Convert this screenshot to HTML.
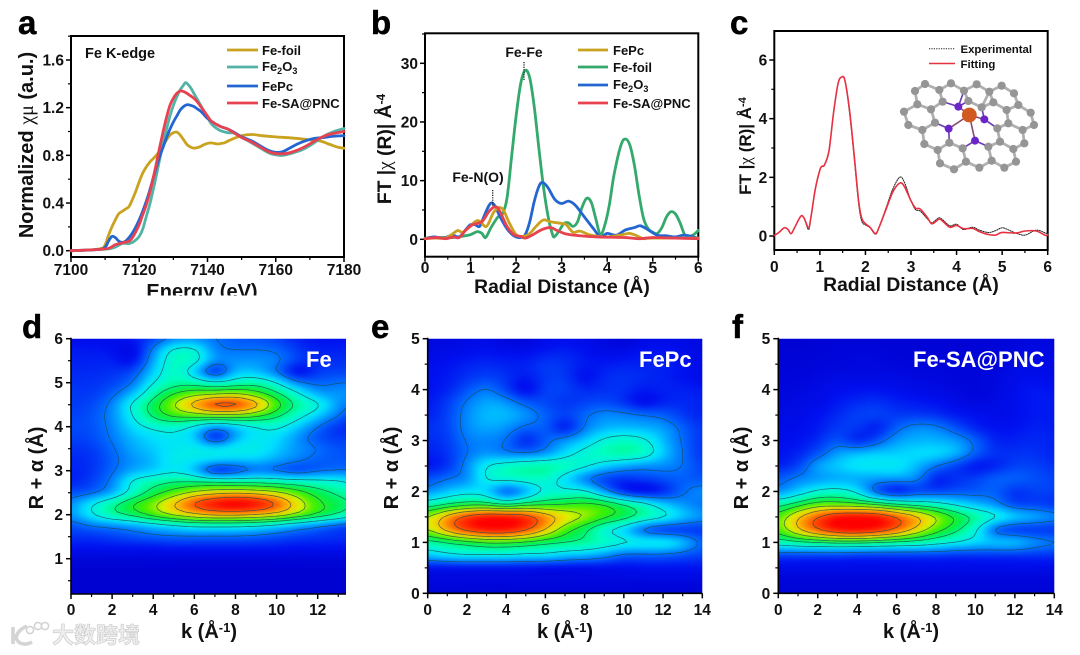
<!DOCTYPE html>
<html lang="en">
<head>
<meta charset="utf-8">
<title>Fe XAFS figure</title>
<style>
html,body{margin:0;padding:0;background:#fff;width:1080px;height:655px;overflow:hidden}
svg{display:block;filter:blur(0.35px)}
text{font-family:"Liberation Sans","Noto Sans CJK SC",sans-serif;font-weight:bold;fill:#111}
.serif{font-family:"Liberation Serif",serif;font-weight:normal}
.tick{font-size:15.5px}
.title{font-size:19.3px}
.leg{font-size:13px}
.panel{font-size:33px;fill:#000;stroke:#000;stroke-width:.5px}
.wh{fill:#fff;font-size:22px}
</style>
</head>
<body>
<svg id="fig" xmlns="http://www.w3.org/2000/svg" width="1080" height="655" viewBox="0 0 1080 655">
<rect width="1080" height="655" fill="#fff"/>
<g id="pa"></g>
<g id="pb"></g>
<g id="pc"></g>
<g id="pd"></g>
<g id="pe"></g>
<g id="pf"></g>
<g id="molecule"></g>

<text class="panel" x="18" y="34">a</text>
<text class="panel" x="371" y="34">b</text>
<text class="panel" x="730" y="34">c</text>
<text class="panel" x="22" y="338">d</text>
<text class="panel" x="371" y="338">e</text>
<text class="panel" x="732" y="338">f</text>

<!-- panel a labels -->
<text class="title" x="202" y="298" text-anchor="middle" style="font-size:20px">Energy (eV)</text>
<rect x="130" y="295.5" width="150" height="12" fill="#fff"/>
<text class="title" transform="translate(33,145) rotate(-90)" text-anchor="middle" style="font-size:20px">Normalized <tspan class="serif">χμ</tspan> (a.u.)</text>
<text x="85" y="58" style="font-size:14.5px">Fe K-edge</text>
<g>
<line x1="227" x2="258" y1="50" y2="50" stroke="#c9a21f" stroke-width="2.8"/>
<text class="leg" x="262" y="55">Fe-foil</text>
<line x1="227" x2="258" y1="67" y2="67" stroke="#52b3a6" stroke-width="2.8"/>
<text class="leg" x="262" y="71">Fe<tspan dy="3" font-size="9">2</tspan><tspan dy="-3">O</tspan><tspan dy="3" font-size="9">3</tspan></text>
<line x1="227" x2="258" y1="86" y2="86" stroke="#2366d1" stroke-width="2.8"/>
<text class="leg" x="262" y="91">FePc</text>
<line x1="227" x2="258" y1="103" y2="103" stroke="#e8414f" stroke-width="2.8"/>
<text class="leg" x="262" y="108">Fe-SA@PNC</text>
</g>

<!-- panel b labels -->
<text class="title" x="562" y="293" text-anchor="middle">Radial Distance (Å)</text>
<text class="title" transform="translate(391,149) rotate(-90)" text-anchor="middle">FT |<tspan class="serif">χ</tspan> (R)| Å<tspan dy="-6" font-size="12">-4</tspan></text>
<text x="524" y="57" text-anchor="middle" style="font-size:14px">Fe-Fe</text>
<line x1="524" x2="524" y1="62" y2="80" stroke="#222" stroke-width="1.3" stroke-dasharray="1.2 1.2"/>
<text x="478" y="182" text-anchor="middle" style="font-size:14px">Fe-N(O)</text>
<line x1="492.7" x2="492.7" y1="190" y2="206" stroke="#222" stroke-width="1.3" stroke-dasharray="1.2 1.2"/>
<g>
<line x1="578" x2="608" y1="50" y2="50" stroke="#c9a21f" stroke-width="2.8"/>
<text class="leg" x="613" y="55">FePc</text>
<line x1="578" x2="608" y1="67" y2="67" stroke="#33a96c" stroke-width="2.8"/>
<text class="leg" x="613" y="72">Fe-foil</text>
<line x1="578" x2="608" y1="85" y2="85" stroke="#2366d1" stroke-width="2.8"/>
<text class="leg" x="613" y="89">Fe<tspan dy="3" font-size="9">2</tspan><tspan dy="-3">O</tspan><tspan dy="3" font-size="9">3</tspan></text>
<line x1="578" x2="608" y1="103" y2="103" stroke="#e8414f" stroke-width="2.8"/>
<text class="leg" x="613" y="108">Fe-SA@PNC</text>
</g>

<!-- panel c labels -->
<text class="title" x="911" y="291" text-anchor="middle">Radial Distance (Å)</text>
<text class="title" transform="translate(751,146) rotate(-90)" text-anchor="middle" style="font-size:17px">FT |<tspan class="serif">χ</tspan> (R)| Å<tspan dy="-5" font-size="11">-4</tspan></text>
<g>
<line x1="929" x2="955" y1="48.7" y2="48.7" stroke="#222" stroke-width="1" stroke-dasharray="1.2 1.2"/>
<text x="960.5" y="53" style="font-size:11.4px">Experimental</text>
<line x1="929" x2="955" y1="63.5" y2="63.5" stroke="#e83040" stroke-width="1.6"/>
<text x="960.5" y="68" style="font-size:11.4px">Fitting</text>
</g>

<!-- heatmap labels -->
<text class="wh" x="306" y="367">Fe</text>
<text class="wh" x="639" y="367">FePc</text>
<text class="wh" x="913" y="367">Fe-SA@PNC</text>
<text class="title" x="209" y="638" text-anchor="middle" style="font-size:20px">k (Å<tspan dy="-6" font-size="13">-1</tspan><tspan dy="6">)</tspan></text>
<text class="title" x="565" y="638" text-anchor="middle" style="font-size:20px">k (Å<tspan dy="-6" font-size="13">-1</tspan><tspan dy="6">)</tspan></text>
<text class="title" x="911" y="638" text-anchor="middle" style="font-size:20px">k (Å<tspan dy="-6" font-size="13">-1</tspan><tspan dy="6">)</tspan></text>
<text class="title" transform="translate(43,468) rotate(-90)" text-anchor="middle" style="font-size:20px">R + α (Å)</text>
<text class="title" transform="translate(398,468) rotate(-90)" text-anchor="middle" style="font-size:20px">R + α (Å)</text>
<text class="title" transform="translate(748,468) rotate(-90)" text-anchor="middle" style="font-size:20px">R + α (Å)</text>

<!-- watermark -->
<g>
<path d="M13 627 L13 644 M27 626 C18 630 15 636 17 640 C20 645 27 645 32 642" fill="none" stroke="#d4d4d4" stroke-width="3.6"/>
<circle cx="30" cy="630" r="3.6" fill="none" stroke="#d4d4d4" stroke-width="1.6"/>
<circle cx="38" cy="626" r="3.6" fill="none" stroke="#d4d4d4" stroke-width="1.6"/>
<circle cx="45" cy="626" r="3.6" fill="none" stroke="#d4d4d4" stroke-width="1.6"/>
<text x="52" y="643" style="font-size:22px;fill:#eeeeee;stroke:#cfcfcf;stroke-width:.7px;font-family:'Noto Sans CJK SC','Liberation Sans',sans-serif;font-weight:bold">大数跨境</text>
</g>
</svg>

<script>
/* ---------- panel a: XANES (energy eV, normalized absorption) ---------- */
const aFoil=[[7100,0],[7105,.005],[7109,.02],[7110,.05],[7111,.13],[7112,.2],[7113,.26],[7114,.31],[7115,.33],[7116,.35],[7117,.37],[7118,.43],[7119,.5],[7120,.58],[7121,.65],[7122,.7],[7123,.74],[7124,.77],[7125,.8],[7126,.84],[7127,.88],[7128,.93],[7129,.97],[7130,.99],[7131,.995],[7132,.97],[7133,.93],[7134,.89],[7135,.87],[7136,.86],[7137,.865],[7138,.875],[7139,.89],[7140,.9],[7141,.905],[7142,.9],[7143,.895],[7144,.9],[7145,.905],[7146,.92],[7148,.945],[7150,.965],[7153,.975],[7156,.965],[7160,.955],[7165,.945],[7170,.93],[7173,.92],[7176,.89],[7178,.87],[7180,.86]];
const aFe2O3=[[7100,0],[7108,.01],[7111,.015],[7113,.03],[7115,.06],[7117,.06],[7118,.07],[7119,.09],[7120,.12],[7121,.18],[7122,.28],[7123,.38],[7124,.5],[7125,.63],[7126,.77],[7127,.9],[7128,1.02],[7129,1.13],[7130,1.22],[7131,1.29],[7132,1.35],[7133,1.39],[7133.7,1.41],[7135,1.37],[7136,1.32],[7137,1.27],[7138,1.22],[7139,1.17],[7140,1.12],[7141,1.07],[7142,1.04],[7143,1.02],[7144,1.005],[7146,.99],[7148,.985],[7150,.95],[7152,.92],[7155,.87],[7158,.82],[7160,.805],[7162,.8],[7165,.82],[7168,.85],[7171,.9],[7174,.96],[7177,1],[7180,1.025]];
const aFePc=[[7100,0],[7108,.01],[7110,.03],[7111,.08],[7112,.12],[7113,.11],[7114,.08],[7115,.07],[7116,.08],[7117,.11],[7118,.15],[7119,.2],[7120,.26],[7121,.33],[7122,.41],[7123,.5],[7124,.6],[7125,.7],[7126,.79],[7127,.87],[7128,.95],[7129,1.02],[7130,1.08],[7131,1.13],[7132,1.18],[7133,1.21],[7134,1.225],[7135,1.22],[7136,1.21],[7137,1.19],[7138,1.17],[7139,1.14],[7140,1.11],[7142,1.07],[7144,1.04],[7146,1.02],[7148,.99],[7150,.955],[7153,.92],[7156,.87],[7158,.84],[7160,.825],[7162,.83],[7164,.86],[7166,.89],[7168,.915],[7171,.94],[7174,.95],[7177,.96],[7180,.965]];
const aFeSA=[[7100,0],[7108,.01],[7111,.02],[7113,.05],[7115,.065],[7117,.08],[7118,.11],[7119,.16],[7120,.22],[7121,.3],[7122,.38],[7123,.48],[7124,.6],[7125,.73],[7126,.87],[7127,1],[7128,1.12],[7129,1.22],[7130,1.28],[7131,1.32],[7132,1.34],[7133,1.335],[7134,1.32],[7135,1.3],[7136,1.28],[7137,1.25],[7138,1.21],[7139,1.17],[7140,1.13],[7141,1.09],[7142,1.07],[7144,1.04],[7146,1.02],[7148,.985],[7150,.95],[7153,.91],[7156,.86],[7158,.83],[7160,.815],[7163,.815],[7166,.84],[7169,.88],[7172,.93],[7175,.97],[7178,.99],[7180,1]];
const aXTickLabels=['7100','7120','7140','7160','7180'];
const aYTickLabels=['0.0','0.4','0.8','1.2','1.6'];

/* ---------- panel b: FT-EXAFS (radial distance, magnitude) ---------- */
const bFoil=[[0,.2],[.3,.3],[.6,.3],[.8,.5],[1,.8],[1.15,1.3],[1.25,1],[1.33,.3],[1.45,2],[1.6,3.8],[1.7,4.3],[1.8,7],[1.9,14],[2,21],[2.1,26.5],[2.2,28.8],[2.3,27.5],[2.4,22.5],[2.5,15.5],[2.6,9],[2.7,4],[2.8,.8],[2.85,.5],[2.95,1.5],[3.05,2.7],[3.15,2.8],[3.25,2.2],[3.35,3],[3.45,5.5],[3.55,7],[3.65,6.3],[3.75,3.5],[3.85,.8],[3.95,2.5],[4.05,6],[4.15,11],[4.3,16],[4.4,17.1],[4.5,16],[4.6,12.5],[4.7,7.5],[4.8,3.5],[4.9,1.8],[5,1.2],[5.1,1],[5.2,2],[5.3,3.8],[5.4,4.7],[5.5,4.3],[5.6,2.8],[5.7,.8],[5.8,.5],[5.9,.8],[6,1.5]];
const bFe2O3=[[0,.1],[.2,.4],[.4,.2],[.6,.7],[.75,.4],[.9,1.7],[1,2.5],[1.1,2.5],[1.2,2.2],[1.3,4],[1.4,5.7],[1.47,6.2],[1.55,5.5],[1.65,3.8],[1.8,1.8],[1.95,.6],[2.1,.3],[2.2,.8],[2.3,3],[2.4,6.5],[2.5,9],[2.58,9.7],[2.7,8.8],[2.85,6.8],[3,6.1],[3.15,6.5],[3.3,5.8],[3.5,3.8],[3.7,1.8],[3.85,.4],[4,1],[4.2,.7],[4.4,1.6],[4.6,2],[4.73,2.3],[4.9,1.6],[5.1,.7],[5.3,.6],[5.5,.4],[5.7,.7],[6,.2]];
const bFePc=[[0,.1],[.2,.2],[.45,.2],[.6,.9],[.72,1.5],[.82,1.2],[.95,1.9],[1.1,3],[1.2,3.1],[1.35,2.2],[1.5,4.5],[1.62,5.4],[1.72,5],[1.85,2.8],[2,.8],[2.15,.5],[2.3,1],[2.45,2.3],[2.6,3.3],[2.75,3],[3,2.7],[3.1,2.5],[3.25,1.2],[3.4,1.4],[3.6,.8],[3.8,.5],[4,.4],[4.2,.6],[4.4,.9],[4.5,1],[4.65,.6],[4.8,.1],[5,.2],[6,.2]];
const bFeSA=[[0,.1],[.25,.3],[.45,.1],[.62,.4],[.75,.3],[.9,1.6],[1.05,2.5],[1.25,3],[1.4,4.7],[1.52,5.5],[1.62,5.1],[1.8,2.2],[1.95,.8],[2.1,.5],[2.2,.2],[2.35,.7],[2.55,1.6],[2.75,2],[2.9,1.5],[3.1,.9],[3.4,.6],[3.8,.4],[4.4,.3],[4.7,.1],[5,.3],[5.5,.2],[6,.1]];
const bXTickLabels=['0','1','2','3','4','5','6'];
const bYTickLabels=['0','10','20','30'];

/* ---------- panel c: EXAFS fit ---------- */
const cFitting=[[0,.02],[.1,.12],[.22,.28],[.3,.22],[.37,.08],[.45,.3],[.58,.67],[.65,.62],[.75,.28],[.8,.6],[.9,1.6],[1,2.25],[1.05,2.38],[1.1,2.42],[1.2,2.9],[1.3,4.2],[1.4,5.2],[1.48,5.42],[1.55,5.3],[1.65,4.3],[1.75,2.8],[1.85,1.2],[1.92,.6],[2,.42],[2.1,.3],[2.22,.08],[2.3,.3],[2.45,.9],[2.6,1.5],[2.75,1.8],[2.85,1.7],[3,1.2],[3.1,.95],[3.2,.92],[3.35,.65],[3.45,.42],[3.55,.5],[3.62,.58],[3.7,.5],[3.85,.3],[4,.36],[4.15,.25],[4.35,.26],[4.5,.15],[4.7,.05],[4.85,.03],[5,.12],[5.3,.1],[5.5,.17],[5.75,.17],[5.95,.02],[6,.05]];
const cExperimental=[[0,.02],[.1,.12],[.22,.28],[.3,.22],[.37,.08],[.45,.3],[.58,.67],[.65,.62],[.75,.22],[.8,.6],[.9,1.6],[1,2.25],[1.05,2.38],[1.1,2.42],[1.2,2.95],[1.3,4.2],[1.4,5.2],[1.48,5.42],[1.55,5.3],[1.65,4.2],[1.75,2.7],[1.85,1.1],[1.92,.5],[2,.38],[2.1,.28],[2.22,.06],[2.3,.3],[2.45,.95],[2.6,1.6],[2.75,2],[2.85,1.85],[3,1.2],[3.1,.9],[3.2,.85],[3.35,.6],[3.45,.45],[3.55,.55],[3.62,.62],[3.7,.55],[3.85,.35],[4,.4],[4.15,.22],[4.35,.3],[4.5,.2],[4.7,.12],[4.85,.18],[5,.28],[5.15,.2],[5.3,.1],[5.5,.03],[5.75,.2],[5.95,.1],[6,.08]];
const cXTickLabels=['0','1','2','3','4','5','6'];
const cYTickLabels=['0','2','4','6'];

/* ---------- heatmaps: rows run from top R down in 0.25 steps, columns k = 0..14 ---------- */
const dRows=[
[6,6,7,9,14,22,23,20,17,16,14,10,8,8,8],
[9,9,8,5,22,38,38,22,20,20,19,13,10,10,10],
[10,10,10,7,26,42,40,24,24,24,22,14,11,12,12],
[11,11,12,15,30,42,30,10,28,28,20,6,13,14,14],
[12,12,14,20,36,44,44,38,42,44,36,22,18,20,20],
[13,13,18,28,44,56,62,64,66,60,50,38,26,24,24],
[13,15,22,38,52,66,80,92,92,80,60,46,38,24,18],
[14,16,23,36,50,58,60,62,62,58,50,40,30,20,12],
[15,16,22,32,38,40,34,24,30,36,38,30,20,12,10],
[14,15,21,28,32,34,30,9,26,34,32,24,16,13,13],
[12,13,19,26,30,34,36,34,36,36,30,24,20,16,16],
[11,12,18,24,28,36,34,32,30,30,26,22,18,17,16],
[10,12,19,26,30,34,28,10,14,20,18,14,18,20,20],
[10,14,22,38,44,48,48,48,46,46,44,42,40,38,32],
[16,18,26,40,52,60,68,72,74,72,68,60,52,46,40],
[23,35,45,56,64,76,90,100,104,100,88,72,58,52,46],
[24,35,45,51,60,68,74,78,78,76,72,64,55,47,38],
[16,20,22,25,30,34,38,38,38,36,32,26,21,16,12],
[12,12,14,16,18,19,19,19,19,18,16,14,13,12,12],
[8,8,8,8,8,9,9,9,9,9,9,8,8,8,8],
[3,3,3,3,3,3,3,3,3,3,3,3,3,3,3],
[1,1,1,1,1,1,1,1,1,1,1,1,1,1,1],
[1,1,1,1,1,1,1,1,1,1,1,1,1,1,1],
[1,1,1,1,1,1,1,1,1,1,1,1,1,1,1],
[1,1,1,1,1,1,1,1,1,1,1,1,1,1,1]];
const eRows=[
[4,4,5,6,3,3,6,7,6,4,2,5,6,5,4],
[5,6,7,8,7,7,9,10,8,6,6,8,8,7,5],
[7,8,10,11,10,10,13,12,9,9,10,10,10,8,6],
[8,9,12,14,12,9,13,13,7,11,12,11,10,8,6],
[8,10,16,21,14,6,14,14,11,12,12,9,10,10,9],
[9,13,21,26,24,17,15,12,14,15,12,6,10,11,10],
[10,14,23,28,28,24,18,14,19,23,22,20,18,13,10],
[12,14,23,26,24,18,18,8,21,27,28,27,25,18,12],
[11,13,21,22,20,10,18,24,30,38,41,38,28,19,12],
[10,12,20,24,21,20,23,32,39,43,45,42,30,20,12],
[8,12,23,36,41,44,45,43,38,31,26,23,23,20,14],
[16,20,23,37,40,41,41,32,21,14,12,14,16,18,16],
[23,29,33,31,16,26,38,38,38,24,10,6,10,19,23],
[42,48,52,52,46,52,54,56,58,56,48,40,30,24,20],
[66,80,92,98,98,94,82,72,66,58,52,44,38,30,24],
[66,80,92,98,98,90,76,60,50,38,30,17,12,12,12],
[44,48,52,56,56,54,50,48,46,42,38,36,36,30,18],
[30,34,36,36,36,34,34,30,28,24,18,18,18,16,14],
[7,7,7,7,7,7,6,6,6,7,7,8,8,8,8],
[4,4,4,4,4,4,4,4,4,4,4,4,4,4,4],
[2,2,2,2,2,2,2,2,2,2,2,2,2,2,2]];
const fRows=[
[1,1,2,2,2,2,2,2,2,2,2,2,3,4,3],
[2,2,2,3,3,3,2,2,2,2,2,3,4,5,4],
[2,2,3,3,4,4,3,3,3,3,3,3,5,6,5],
[3,3,4,5,5,5,5,4,4,3,3,4,6,7,6],
[3,4,5,7,8,8,7,6,5,4,3,4,7,9,8],
[4,5,6,9,11,12,10,9,8,6,4,5,7,9,9],
[5,6,8,11,14,14,13,13,12,9,8,6,7,9,9],
[6,7,9,13,13,9,18,23,22,16,10,8,8,10,9],
[7,8,11,17,10,16,25,27,27,25,18,10,10,11,10],
[8,10,16,25,28,30,30,32,32,28,18,12,12,12,10],
[10,14,26,30,34,34,34,28,20,14,8,10,14,14,12],
[17,22,24,26,26,25,25,23,10,12,14,18,18,16,14],
[23,30,38,40,34,16,8,14,14,16,17,18,12,14,14],
[44,52,60,60,58,54,48,44,40,34,28,23,14,14,12],
[60,75,88,98,100,98,88,78,66,55,46,38,31,27,23],
[60,75,88,98,100,96,86,73,60,50,38,17,12,12,12],
[42,46,48,50,50,48,46,44,40,36,32,30,30,24,21],
[14,14,14,14,13,13,13,13,13,12,12,12,12,12,12],
[6,6,6,6,6,6,6,6,6,6,6,6,6,6,6],
[3,3,3,3,3,3,3,3,3,3,3,3,3,3,3],
[2,2,2,2,2,2,2,2,2,2,2,2,2,2,2]];
const dXTickLabels=['0','2','4','6','8','10','12'];
const dYTickLabels=['1','2','3','4','5','6'];
const efXTickLabels=['0','2','4','6','8','10','12','14'];
const efYTickLabels=['0','1','2','3','4','5'];
const contourLevels=[20,36,48,56,66,76,88];

const NS='http://www.w3.org/2000/svg';
function mk(tag,attrs,parent){
  const e=document.createElementNS(NS,tag);
  for(const k in attrs)e.setAttribute(k,attrs[k]);
  parent.appendChild(e);
  return e;
}
function scale(d0,d1,r0,r1){
  const f=v=>r0+(v-d0)*(r1-r0)/(d1-d0);
  f.inv=p=>d0+(p-r0)*(d1-d0)/(r1-r0);
  return f;
}
function smoothPath(series,sx,sy){
  const p=series.map(d=>[sx(d[0]),sy(d[1])]);
  let s='M'+p[0][0].toFixed(2)+' '+p[0][1].toFixed(2);
  for(let i=0;i<p.length-1;i++){
    const a=p[Math.max(i-1,0)],b=p[i],c=p[i+1],d=p[Math.min(i+2,p.length-1)];
    const c1=[b[0]+(c[0]-a[0])/6,b[1]+(c[1]-a[1])/6],c2=[c[0]-(d[0]-b[0])/6,c[1]-(d[1]-b[1])/6];
    s+='C'+c1[0].toFixed(2)+' '+c1[1].toFixed(2)+' '+c2[0].toFixed(2)+' '+c2[1].toFixed(2)+' '+c[0].toFixed(2)+' '+c[1].toFixed(2);
  }
  return s;
}
function drawLine(g,series,sx,sy,color,width,dash,name){
  const path=mk('path',{d:smoothPath(series,sx,sy),fill:'none',stroke:color,'stroke-width':width,'stroke-linejoin':'round','stroke-linecap':'round'},g);
  if(dash)path.setAttribute('stroke-dasharray',dash);
  
  
}
function drawAxes(g,o){
  const b=o.box;
  if(o.frame){
    const fr=mk('rect',{x:b.x0,y:b.y0,width:b.x1-b.x0,height:b.y1-b.y0,fill:'none',stroke:'#000','stroke-width':2},g);
    
    
  }else{
    const ax=mk('path',{d:`M${b.x0} ${b.y0-1}V${b.y1}H${b.x1}`,fill:'none',stroke:'#000','stroke-width':1.6},g);
    
    
  }
  const xs=o.xLabels.map(parseFloat),ys=o.yLabels.map(parseFloat);
  xs.forEach((v,i)=>{
    const t=mk('line',{x1:o.sx(v),x2:o.sx(v),y1:b.y1,y2:b.y1+5,stroke:'#000','stroke-width':1.5},g);
    
    
    const l=mk('text',{x:o.sx(v),y:o.xLabelY,'text-anchor':'middle','class':'tick'},g);
    l.textContent=o.xLabels[i];
    
    
    if(i<xs.length-1||o.xExtra){
      const step=xs.length>1?xs[1]-xs[0]:1;
      const mv=v+step/2;
      if(o.sx(mv)<=b.x1){
        const m=mk('line',{x1:o.sx(mv),x2:o.sx(mv),y1:b.y1,y2:b.y1+3,stroke:'#000','stroke-width':1.2},g);
        
        
      }
    }
  });
  ys.forEach((v,i)=>{
    const t=mk('line',{x1:b.x0-5,x2:b.x0,y1:o.sy(v),y2:o.sy(v),stroke:'#000','stroke-width':1.5},g);
    
    
    const l=mk('text',{x:b.x0-o.yPad,y:o.sy(v)+5.5,'text-anchor':'end','class':'tick'},g);
    l.textContent=o.yLabels[i];
    
    
    const step=ys[1]-ys[0];
    [v-step/2,v+step/2].forEach((mv,j)=>{
      if(j===0&&i>0)return;
      const py=o.sy(mv);
      if(py>=b.y0&&py<=b.y1){
        const m=mk('line',{x1:b.x0-3,x2:b.x0,y1:py,y2:py,stroke:'#000','stroke-width':1.2},g);
        
        
      }
    });
  });
}

/* panel a */
(function(){
  const g=document.getElementById('pa');
  const box={x0:71,x1:344,y0:36,y1:257};
  const sx=scale(7100,7180,71,344),sy=scale(0,1.6,250.7,60);
  drawAxes(g,{box,sx,sy,frame:true,xLabels:aXTickLabels,yLabels:aYTickLabels,xLabelY:275,yPad:7});
  drawLine(g,aFoil,sx,sy,'#c9a21f',2.8,null,'series-fe-foil');
  drawLine(g,aFe2O3,sx,sy,'#52b3a6',2.8,null,'series-fe2o3');
  drawLine(g,aFePc,sx,sy,'#2366d1',2.8,null,'series-fepc');
  drawLine(g,aFeSA,sx,sy,'#e8414f',2.8,null,'series-fe-sa');
})();
/* panel b */
(function(){
  const g=document.getElementById('pb');
  const box={x0:425,x1:698.3,y0:33.3,y1:256.7};
  const sx=scale(0,6,425,698.3),sy=scale(0,30,239.3,63.3);
  drawAxes(g,{box,sx,sy,frame:true,xLabels:bXTickLabels,yLabels:bYTickLabels,xLabelY:273,yPad:7});
  drawLine(g,bFoil,sx,sy,'#33a96c',2.8,null,'series-fe-foil');
  drawLine(g,bFe2O3,sx,sy,'#2366d1',2.8,null,'series-fe2o3');
  drawLine(g,bFePc,sx,sy,'#c9a21f',2.8,null,'series-fepc');
  drawLine(g,bFeSA,sx,sy,'#e8414f',2.8,null,'series-fe-sa');
})();
/* panel c */
(function(){
  const g=document.getElementById('pc');
  const box={x0:774.3,x1:1047.7,y0:31,y1:250};
  const sx=scale(0,6,774.3,1047.7),sy=scale(0,6,236,60);
  drawAxes(g,{box,sx,sy,frame:true,xLabels:cXTickLabels,yLabels:cYTickLabels,xLabelY:272,yPad:7});
  drawLine(g,cExperimental,sx,sy,'#222',1,'1.2 1.2','series-experimental');
  drawLine(g,cFitting,sx,sy,'#e83040',1.6,null,'series-fitting');
})();

/* heatmaps */
const colorStops=[[0,[0,0,205]],[8,[0,16,240]],[20,[0,112,255]],[32,[0,224,255]],[42,[0,255,192]],[52,[0,240,80]],[60,[64,240,0]],[69,[224,240,0]],[78,[255,176,0]],[88,[255,80,0]],[100,[255,0,0]]];
function heatColor(v){
  v=Math.max(0,Math.min(100,v));
  for(let i=0;i<colorStops.length-1;i++){
    const a=colorStops[i],b=colorStops[i+1];
    if(v<=b[0]){
      const t=(v-a[0])/(b[0]-a[0]);
      return 'rgb('+[0,1,2].map(c=>Math.round(a[1][c]+(b[1][c]-a[1][c])*t)).join(',')+')';
    }
  }
  return 'rgb(255,0,0)';
}
function cr(p0,p1,p2,p3,t){
  return .5*(2*p1+(p2-p0)*t+(2*p0-5*p1+4*p2-p3)*t*t+(3*p1-p0-3*p2+p3)*t*t*t);
}
function sample(rows,c,r){
  const nr=rows.length,nc=rows[0].length;
  const ri=Math.floor(r),ci=Math.floor(c),tr=r-ri,tc=c-ci;
  const at=(j,i)=>rows[Math.max(0,Math.min(nr-1,j))][Math.max(0,Math.min(nc-1,i))];
  const col=[];
  for(let j=-1;j<3;j++)col.push(cr(at(ri+j,ci-1),at(ri+j,ci),at(ri+j,ci+1),at(ri+j,ci+2),tc));
  return cr(col[0],col[1],col[2],col[3],tr);
}
function soften(F,passesX,passesY){
  const ny=F.length,nx=F[0].length;
  for(let p=0;p<passesX;p++)for(let j=0;j<ny;j++){
    const o=F[j].slice();
    for(let i=0;i<nx;i++)F[j][i]=(o[Math.max(i-1,0)]+2*o[i]+o[Math.min(i+1,nx-1)])/4;
  }
  for(let p=0;p<passesY;p++)for(let i=0;i<nx;i++){
    const o=F.map(r=>r[i]);
    for(let j=0;j<ny;j++)F[j][i]=(o[Math.max(j-1,0)]+2*o[j]+o[Math.min(j+1,ny-1)])/4;
  }
}
let clipCount=0;
function drawHeat(g,rows,topR,sx,sy,box,name){
  const step=3,pad=6;
  const x0=Math.floor(box.x0)-pad,y0=Math.floor(box.y0)-pad;
  const nx=Math.ceil((box.x1-x0+pad)/step),ny=Math.ceil((box.y1-y0+pad)/step);
  const F=[];
  for(let j=0;j<=ny;j++){
    const row=[];
    for(let i=0;i<=nx;i++){
      const k=sx.inv(x0+i*step),R=sy.inv(y0+j*step);
      row.push(sample(rows,k,(topR-R)/.25));
    }
    F.push(row);
  }
  soften(F,8,2);
  const id='clip'+(clipCount++);
  const defs=mk('defs',{},g);
  const cp=mk('clipPath',{id:id},defs);
  mk('rect',{x:box.x0,y:box.y0,width:box.x1-box.x0,height:box.y1-box.y0},cp);
  const fl=mk('filter',{id:id+'b',x:'-5%',y:'-5%',width:'110%',height:'110%','color-interpolation-filters':'sRGB'},defs);
  mk('feGaussianBlur',{stdDeviation:1.6},fl);
  const clipG=mk('g',{'clip-path':'url(#'+id+')'},g);
  
  
  const cells=mk('g',{filter:'url(#'+id+'b)','shape-rendering':'crispEdges'},clipG);
  
  
  for(let j=0;j<ny;j++)for(let i=0;i<nx;i++){
    const v=(F[j][i]+F[j][i+1]+F[j+1][i]+F[j+1][i+1])/4;
    const cell=mk('rect',{x:x0+i*step,y:y0+j*step,width:step+.5,height:step+.5,fill:heatColor(v)},cells);
    
    
  }
  contourLevels.forEach(l=>{
    let d='';
    for(let j=0;j<ny;j++)for(let i=0;i<nx;i++){
      const X=x0+i*step,Y=y0+j*step,a=F[j][i],b=F[j][i+1],c=F[j+1][i+1],e=F[j+1][i];
      const pts=[];
      if((a-l)*(b-l)<0)pts.push([X+step*(l-a)/(b-a),Y]);
      if((b-l)*(c-l)<0)pts.push([X+step,Y+step*(l-b)/(c-b)]);
      if((e-l)*(c-l)<0)pts.push([X+step*(l-e)/(c-e),Y+step]);
      if((a-l)*(e-l)<0)pts.push([X,Y+step*(l-a)/(e-a)]);
      if(pts.length>=2)d+='M'+pts[0][0].toFixed(1)+' '+pts[0][1].toFixed(1)+'L'+pts[1][0].toFixed(1)+' '+pts[1][1].toFixed(1);
      if(pts.length===4)d+='M'+pts[2][0].toFixed(1)+' '+pts[2][1].toFixed(1)+'L'+pts[3][0].toFixed(1)+' '+pts[3][1].toFixed(1);
    }
    const line=mk('path',{d:d,fill:'none',stroke:'#1d4a4a','stroke-width':.7,'stroke-opacity':.8,'stroke-linecap':'round','clip-path':'url(#'+id+')'},g);
    
    
  });
}
(function(){
  const g=document.getElementById('pd');
  const box={x0:71,x1:346,y0:338.7,y1:594};
  const sx=scale(0,12,71,317.7),sy=scale(1,6,558.7,338.7);
  drawHeat(g,dRows,6,sx,sy,box,'heatmap-fe');
  drawAxes(g,{box,sx,sy,frame:false,xLabels:dXTickLabels,yLabels:dYTickLabels,xLabelY:615,yPad:8,xExtra:true});
})();
(function(){
  const g=document.getElementById('pe');
  const box={x0:427.7,x1:702.3,y0:338.7,y1:593.3};
  const sx=scale(0,14,427.7,702.3),sy=scale(0,5,593.3,338.7);
  drawHeat(g,eRows,5,sx,sy,box,'heatmap-fepc');
  drawAxes(g,{box,sx,sy,frame:false,xLabels:efXTickLabels,yLabels:efYTickLabels,xLabelY:615,yPad:8});
})();
(function(){
  const g=document.getElementById('pf');
  const box={x0:778.3,x1:1054.3,y0:338.7,y1:593.3};
  const sx=scale(0,14,778.3,1054.3),sy=scale(0,5,593.3,338.7);
  drawHeat(g,fRows,5,sx,sy,box,'heatmap-fe-sa');
  drawAxes(g,{box,sx,sy,frame:false,xLabels:efXTickLabels,yLabels:efYTickLabels,xLabelY:615,yPad:8});
})();

/* molecule inset (illustration, not chart data) */
(function(){
  const g=document.getElementById('molecule');
  const carbonSites=[[105,42],[75,63],[148,60],[183,40],[222,62],[260,43],[298,65],[335,47],[372,70],[385,105],[422,128],[432,165],[398,180],[403,220],[370,237],[378,275],[343,293],[305,272],[268,293],[228,275],[192,298],[150,280],[143,240],[103,222],[97,180],[55,165],[42,125],[82,103],[123,118],[158,95],[235,93],[275,112],[310,97],[350,120],[355,160],[322,175],[330,215],[295,230],[218,235],[178,218],[135,158]];
  const nitrogenSites=[[205,110],[283,148],[176,176],[255,212]];
  const ironSite=[238,135];
  const px=p=>[890+p[0]/3,70+p[1]/3];
  const C=carbonSites.map(px),N=nitrogenSites.map(px),Fe=px(ironSite);
  const dist=(a,b)=>Math.hypot(a[0]-b[0],a[1]-b[1]);
  for(let i=0;i<C.length;i++)for(let j=i+1;j<C.length;j++){
    if(dist(C[i],C[j])<17.5){
      const b=mk('line',{x1:C[i][0],y1:C[i][1],x2:C[j][0],y2:C[j][1],stroke:'#b0b0b0','stroke-width':2.8},g);
      
      
    }
  }
  N.forEach(n=>{
    C.forEach(c=>{
      if(dist(n,c)<17){
        const b=mk('line',{x1:n[0],y1:n[1],x2:c[0],y2:c[1],stroke:'#6a3ab0','stroke-width':1.6},g);
        
        
      }
    });
    const b=mk('line',{x1:n[0],y1:n[1],x2:Fe[0],y2:Fe[1],stroke:'#8a4a70','stroke-width':1.6},g);
    
    
  });
  C.forEach(c=>{
    const a=mk('circle',{cx:c[0],cy:c[1],r:4.1,fill:'#959595'},g);
    
    
  });
  N.forEach(c=>{
    const a=mk('circle',{cx:c[0],cy:c[1],r:4,fill:'#6a25c8'},g);
    
    
  });
  const fe=mk('circle',{cx:Fe[0],cy:Fe[1],r:7.4,fill:'#d05a20'},g);
  
  
})();
</script>
</body>
</html>
